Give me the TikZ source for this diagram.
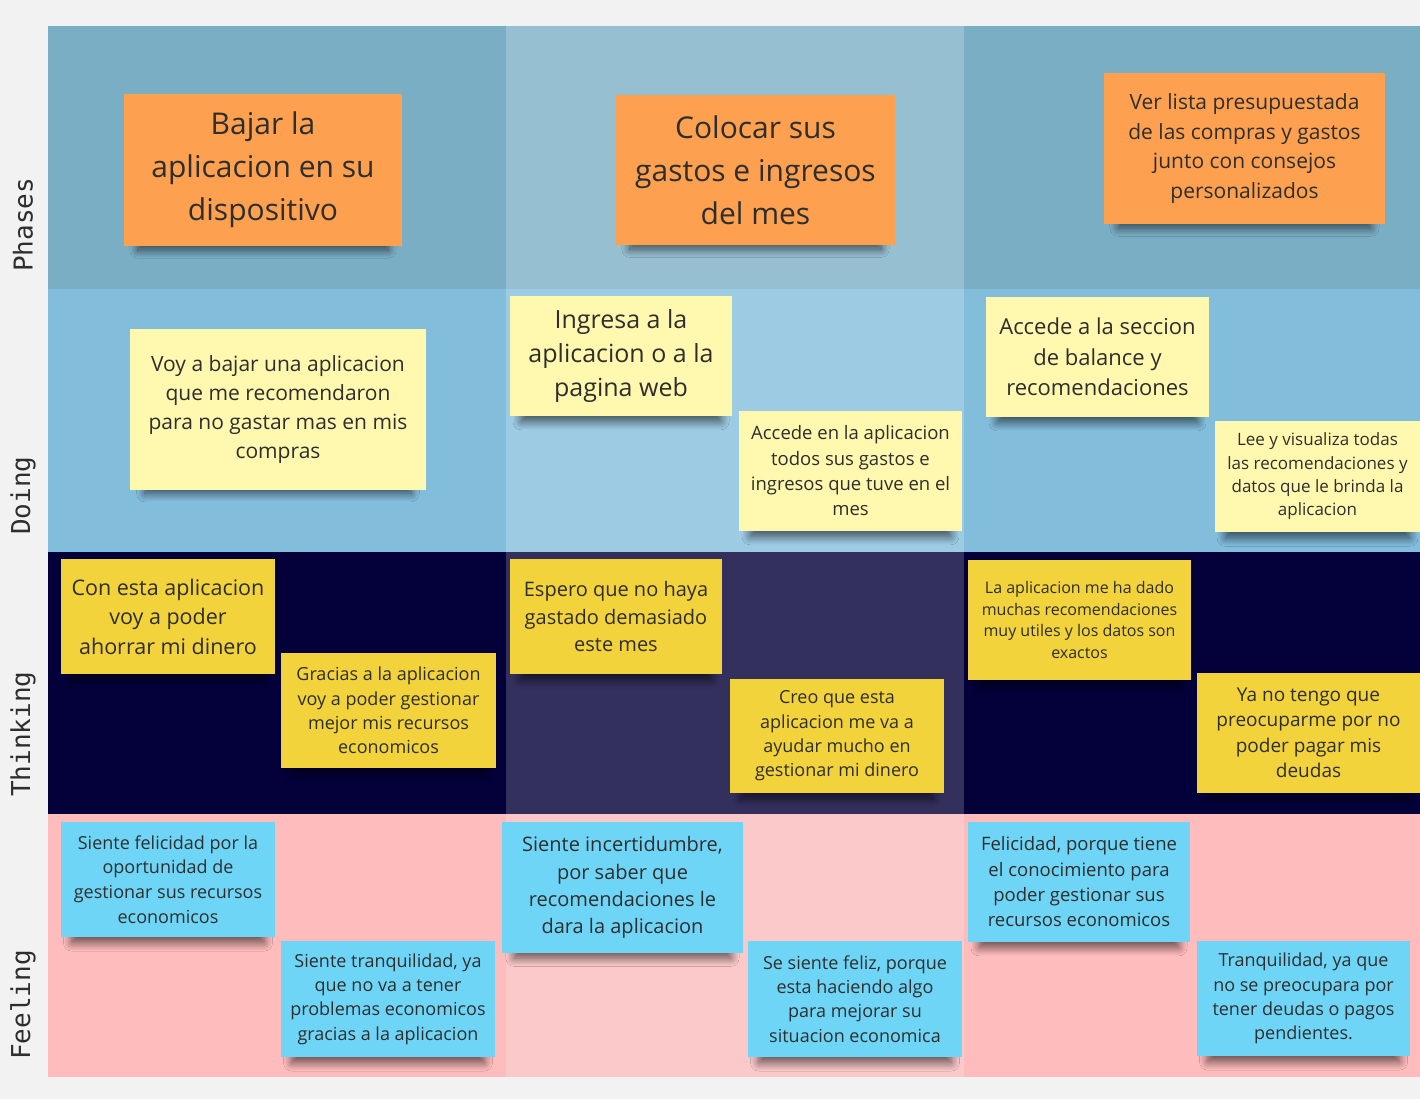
\documentclass[tikz,border=0pt]{standalone}
\usepackage{fontspec}
\setmainfont{Open Sans}
\newfontfamily\monofont{DejaVu Sans Mono}
\usetikzlibrary{shadows.blur}
\newcommand{\fsz}[2]{\fontsize{#1}{#2}\selectfont}
\definecolor{paper}{HTML}{F2F2F2}
\definecolor{phA}{HTML}{7AAEC5}
\definecolor{phB}{HTML}{96BFD1}
\definecolor{doA}{HTML}{83BDDC}
\definecolor{doB}{HTML}{9DCBE3}
\definecolor{thA}{HTML}{03003A}
\definecolor{thB}{HTML}{34305E}
\definecolor{feA}{HTML}{FFBCBC}
\definecolor{feB}{HTML}{FBC9C9}
\definecolor{orng}{HTML}{FDA050}
\definecolor{pale}{HTML}{FFF8AE}
\definecolor{gold}{HTML}{F3D33C}
\definecolor{sky}{HTML}{6FD5F6}
\definecolor{ink}{HTML}{2E2E2E}

\begin{document}
\begin{tikzpicture}[x=1pt,y=-1pt,
  rowlabel/.style={rotate=90, anchor=west, inner sep=0pt, text=ink, font=\monofont\fsz{26}{30}},
  note/.style={inner sep=0pt, align=center, text=ink,
    blur shadow={shadow xshift=0pt, shadow yshift=-13pt, shadow scale=.9, shadow blur radius=9pt, shadow blur steps=16, shadow opacity=60}},
  phasenote/.style={note, fill=orng},
  doingnote/.style={note, fill=pale},
  thinknote/.style={note, fill=gold},
  feelnote/.style={note, fill=sky}]
\useasboundingbox (0,0) rectangle (1420,1099);
\fill[paper] (0,0) rectangle (1420,1099);
% swimlanes
\foreach \top/\bot/\ca/\cb in {26/289/phA/phB, 289/552/doA/doB, 552/814/thA/thB, 814/1077/feA/feB}{
  \fill[\ca] (48,\top) rectangle (1420,\bot);
  \fill[\cb] (506,\top) rectangle (964,\bot);
}
% row labels
\node[rowlabel] (phases) at (23,272) {Phases};
\node[rowlabel] (doing) at (23,535) {Doing};
\node[rowlabel] (thinking) at (23,797) {Thinking};
\node[rowlabel] (feeling) at (23,1060) {Feeling};
% phases
\node[phasenote, minimum width=278, minimum height=152, font=\fsz{30}{43}] (p1) at (263,170) {Bajar la\\aplicacion en su\\dispositivo};
\node[phasenote, minimum width=279, minimum height=150, font=\fsz{30}{43}] (p2) at (755.5,170) {Colocar sus\\gastos e ingresos\\del mes};
\node[phasenote, minimum width=281, minimum height=151, font=\fsz{21}{29.6}] (p3) at (1244.5,148.5) {Ver lista presupuestada\\de las compras y gastos\\junto con consejos\\personalizados};
% doing
\node[doingnote, minimum width=296, minimum height=161, font=\fsz{21}{28.7}] (d1) at (278,409.5) {Voy a bajar una aplicacion\\que me recomendaron\\para no gastar mas en mis\\compras};
\node[doingnote, minimum width=222, minimum height=120, font=\fsz{25}{34}] (d2) at (621,356) {Ingresa a la\\aplicacion o a la\\pagina web};
\node[doingnote, minimum width=223, minimum height=120, font=\fsz{18.5}{25.3}] (d3) at (850.5,471) {Accede en la aplicacion\\todos sus gastos e\\ingresos que tuve en el\\mes};
\node[doingnote, minimum width=223, minimum height=120, font=\fsz{22}{30.5}] (d4) at (1097.5,357) {Accede a la seccion\\de balance y\\recomendaciones};
\node[doingnote, minimum width=205, minimum height=111, font=\fsz{17}{23.3}] (d5) at (1317.5,476.5) {Lee y visualiza todas\\las recomendaciones y\\datos que le brinda la\\aplicacion};
% thinking
\node[thinknote, minimum width=214, minimum height=115, font=\fsz{21.5}{29.5}] (t1) at (168,616.5) {Con esta aplicacion\\voy a poder\\ahorrar mi dinero};
\node[thinknote, minimum width=215, minimum height=115, font=\fsz{18}{24.3}] (t2) at (388.5,710.5) {Gracias a la aplicacion\\voy a poder gestionar\\mejor mis recursos\\economicos};
\node[thinknote, minimum width=212, minimum height=115, font=\fsz{20}{27.5}] (t3) at (616,616.5) {Espero que no haya\\gastado demasiado\\este mes};
\node[thinknote, minimum width=214, minimum height=114, font=\fsz{18}{24.3}] (t4) at (837,736) {Creo que esta\\aplicacion me va a\\ayudar mucho en\\gestionar mi dinero};
\node[thinknote, minimum width=223, minimum height=120, font=\fsz{16}{21.7}] (t5) at (1079.5,620) {La aplicacion me ha dado\\muchas recomendaciones\\muy utiles y los datos son\\exactos};
\node[thinknote, minimum width=223, minimum height=120, font=\fsz{19}{25.5}] (t6) at (1308.5,733) {Ya no tengo que\\preocuparme por no\\poder pagar mis\\deudas};
% feeling
\node[feelnote, minimum width=214, minimum height=115, font=\fsz{18}{24.7}] (f1) at (168,879.5) {Siente felicidad por la\\oportunidad de\\gestionar sus recursos\\economicos};
\node[feelnote, minimum width=214, minimum height=116, font=\fsz{18}{24.3}] (f2) at (388,999) {Siente tranquilidad, ya\\que no va a tener\\problemas economicos\\gracias a la aplicacion};
\node[feelnote, minimum width=241, minimum height=131, font=\fsz{20}{27.3}] (f3) at (622.5,887.5) {Siente incertidumbre,\\por saber que\\recomendaciones le\\dara la aplicacion};
\node[feelnote, minimum width=214, minimum height=116, font=\fsz{18}{24.3}] (f4) at (855,999) {Se siente feliz, porque\\esta haciendo algo\\para mejorar su\\situacion economica};
\node[feelnote, minimum width=222, minimum height=120, font=\fsz{18.5}{25.3}] (f5) at (1079,882) {Felicidad, porque tiene\\el conocimiento para\\poder gestionar sus\\recursos economicos};
\node[feelnote, minimum width=213, minimum height=115, font=\fsz{18}{24.3}] (f6) at (1303.5,998.5) {Tranquilidad, ya que\\no se preocupara por\\tener deudas o pagos\\pendientes.};
\end{tikzpicture}
\end{document}
